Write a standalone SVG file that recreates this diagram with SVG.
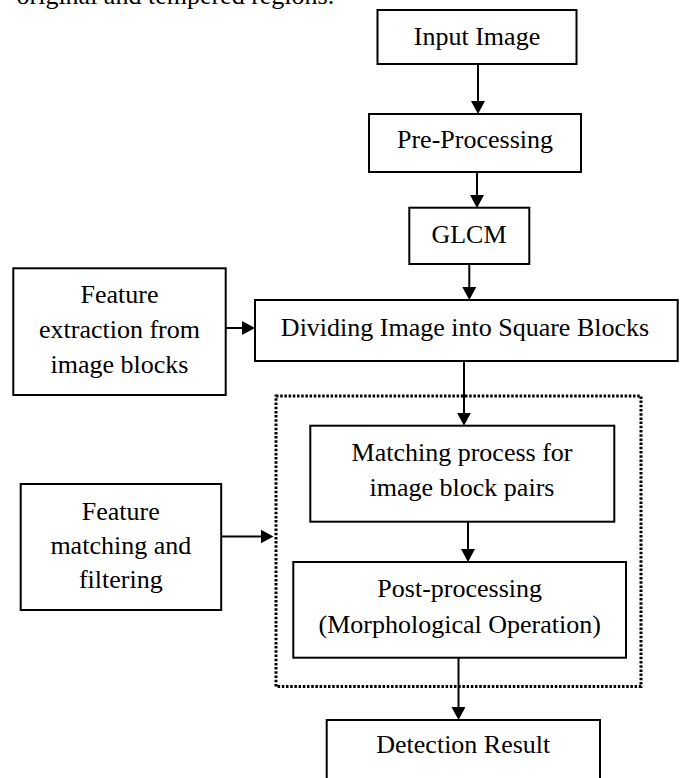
<svg xmlns="http://www.w3.org/2000/svg" width="680" height="778" viewBox="0 0 680 778">
  <style>
    .box { fill: #ffffff; stroke: #000000; stroke-width: 2; }
    .dotted { fill: none; stroke: #000000; stroke-width: 3; stroke-dasharray: 2.5 1.7; }
    .t { font-family: "Liberation Serif", "Times New Roman", serif; font-size: 26px; fill: #000000; text-anchor: middle; }
    .tl { font-family: "Liberation Serif", "Times New Roman", serif; font-size: 26px; fill: #000000; }
    .conn { stroke: #000000; stroke-width: 2; fill: none; marker-end: url(#arrow); }
  </style>
  <defs>
    <marker id="arrow" markerUnits="userSpaceOnUse" markerWidth="14" markerHeight="15" refX="1" refY="7" orient="auto" viewBox="0 0 14 14">
      <path d="M0,0 L13,7 L0,14 Z" fill="#000000"/>
    </marker>
  </defs>
  <rect width="680" height="778" fill="#ffffff"/>

  <text class="tl" x="16.5" y="3.5">original and tempered regions.</text>

  <g id="group-box">
    <rect class="dotted" x="276" y="396" width="365" height="290.5"/>
  </g>

  <g id="input-image">
    <rect class="box" x="377.5" y="10" width="199" height="54"/>
    <text class="t" x="477" y="45">Input Image</text>
  </g>

  <g id="pre-processing">
    <rect class="box" x="369" y="114" width="212" height="58"/>
    <text class="t" x="475" y="148">Pre-Processing</text>
  </g>

  <g id="glcm">
    <rect class="box" x="409.3" y="207.7" width="120" height="56.3"/>
    <text class="t" x="469" y="242.7">GLCM</text>
  </g>

  <g id="feature-extraction">
    <rect class="box" x="13.3" y="268.3" width="212.4" height="126.7"/>
    <text class="t" x="119.5" y="302.7">Feature</text>
    <text class="t" x="119.5" y="337.7">extraction from</text>
    <text class="t" x="119.5" y="372.7">image blocks</text>
  </g>

  <g id="dividing">
    <rect class="box" x="255" y="300" width="422.7" height="61"/>
    <text class="t" x="465" y="336">Dividing Image into Square Blocks</text>
  </g>

  <g id="matching">
    <rect class="box" x="310.3" y="425.7" width="304" height="96"/>
    <text class="t" x="462" y="460.7">Matching process for</text>
    <text class="t" x="462" y="495.7">image block pairs</text>
  </g>

  <g id="feature-matching">
    <rect class="box" x="20.7" y="484" width="200.5" height="126"/>
    <text class="t" x="120.8" y="520">Feature</text>
    <text class="t" x="120.8" y="554">matching and</text>
    <text class="t" x="120.8" y="588.3">filtering</text>
  </g>

  <g id="post-processing">
    <rect class="box" x="293.3" y="562" width="332.7" height="95.7"/>
    <text class="t" x="459.7" y="596.7">Post-processing</text>
    <text class="t" x="459.7" y="632.7">(Morphological Operation)</text>
  </g>

  <g id="detection-result">
    <rect class="box" x="326.7" y="720" width="273.3" height="70"/>
    <text class="t" x="463.3" y="753">Detection Result</text>
  </g>

  <g id="connectors">
    <line class="conn" x1="478" y1="64" x2="478" y2="102"/>
    <line class="conn" x1="477" y1="172" x2="477" y2="196"/>
    <line class="conn" x1="469.3" y1="264" x2="469.3" y2="288"/>
    <line class="conn" x1="225.7" y1="328" x2="243" y2="328"/>
    <line class="conn" x1="464" y1="361" x2="464" y2="413.7"/>
    <line class="conn" x1="468" y1="521.7" x2="468" y2="550"/>
    <line class="conn" x1="221.2" y1="536.5" x2="261.5" y2="536.5"/>
    <line class="conn" x1="458.5" y1="657.7" x2="458.5" y2="708"/>
  </g>
</svg>
